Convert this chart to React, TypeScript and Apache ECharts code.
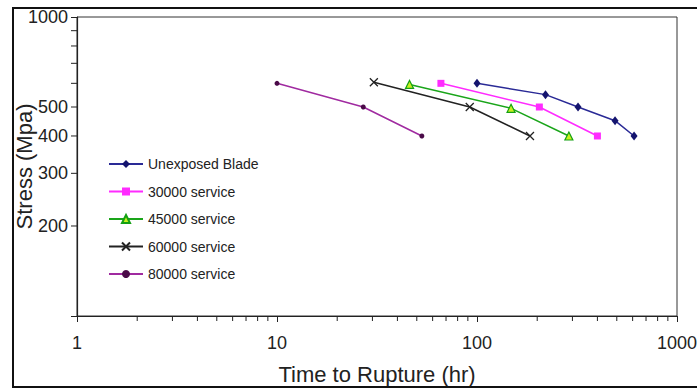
import React, { useEffect, useRef } from "react";
import * as echarts from "echarts";

const seriesNames = ["Unexposed Blade", "30000 service", "45000 service", "60000 service", "80000 service"];

const unexposed: [number, number][] = [[100, 600], [220, 550], [320, 500], [490, 450], [610, 400]];
const s30000: [number, number][] = [[66, 600], [205, 500], [400, 400]];
const s45000: [number, number][] = [[46, 595], [148, 495], [288, 400]];
const s60000: [number, number][] = [[30.5, 605], [92, 500], [184, 400]];
const s80000: [number, number][] = [[10, 600], [27, 500], [53, 400]];

const xMinorTicks = [2, 3, 4, 5, 6, 7, 8, 9, 20, 30, 40, 50, 60, 70, 80, 90, 200, 300, 400, 500, 600, 700, 800, 900];
const yMinorTicks = [200, 300, 400, 500, 600, 700, 800, 900];
const yExtraLabels = [200, 300, 400, 500];

const FONT = "Liberation Sans, Arial, sans-serif";

export default function App() {
  const ref = useRef<HTMLDivElement>(null);
  useEffect(() => {
    if (!ref.current) return;
    const chart = echarts.init(ref.current, null, { renderer: "svg" });
    const lineW = 1.5;
    chart.setOption({
      animation: false,
      backgroundColor: "#fff",
      textStyle: { fontFamily: FONT },
      grid: {
        left: 77,
        right: 20,
        top: 17,
        bottom: 73,
        show: true,
        borderColor: "#333",
        borderWidth: 1,
        containLabel: false,
        outerBoundsMode: "none",
      },
      graphic: [
        {
          type: "rect",
          shape: { x: 13, y: 8, width: 700, height: 379 },
          style: { fill: "none", stroke: "#111", lineWidth: 2 },
          silent: true,
          z: 100,
        },
      ],
      legend: {
        data: seriesNames,
        orient: "vertical",
        left: 108,
        top: 157,
        padding: 0,
        itemWidth: 34,
        itemHeight: 10,
        itemGap: 13.5,
        textStyle: { fontSize: 14, color: "#222", fontFamily: FONT },
      },
      xAxis: {
        type: "log",
        logBase: 10,
        min: 1,
        max: 1000,
        name: "Time to Rupture (hr)",
        nameLocation: "middle",
        nameGap: 47,
        nameMoveOverlap: false,
        nameTextStyle: { fontSize: 22, color: "#222", fontFamily: FONT },
        axisLine: { lineStyle: { color: "#222", width: 1.2 } },
        axisTick: { show: true, inside: false, length: 6, lineStyle: { color: "#222" } },
        axisLabel: { fontSize: 18, color: "#222", margin: 18, formatter: (v: number) => String(Math.round(v)) },
        splitLine: { show: false },
      },
      yAxis: {
        type: "log",
        logBase: 10,
        min: 100,
        max: 1000,
        name: "Stress (Mpa)",
        nameLocation: "middle",
        nameGap: 42,
        nameMoveOverlap: false,
        nameTextStyle: { fontSize: 22, color: "#222", fontFamily: FONT },
        axisLine: { lineStyle: { color: "#222", width: 1.2 } },
        axisTick: { show: true, inside: false, length: 6, lineStyle: { color: "#222" } },
        axisLabel: {
          fontSize: 18,
          color: "#222",
          margin: 9,
          formatter: (v: number) => (Math.round(v) === 1000 ? "1000" : ""),
        },
        splitLine: { show: false },
      },
      series: [
        {
          name: seriesNames[0],
          type: "line",
          data: unexposed,
          symbol: "diamond",
          symbolSize: [7, 9],
          itemStyle: { color: "#14146e" },
          lineStyle: { color: "#2a2a96", width: lineW },
        },
        {
          name: seriesNames[1],
          type: "line",
          data: s30000,
          symbol: "rect",
          symbolSize: 7,
          itemStyle: { color: "#ff2bff" },
          lineStyle: { color: "#ff2bff", width: lineW },
        },
        {
          name: seriesNames[2],
          type: "line",
          data: s45000,
          symbol: "triangle",
          symbolSize: 8,
          itemStyle: { color: "#c8f020", borderColor: "#13a013", borderWidth: 1.2 },
          lineStyle: { color: "#1aa51a", width: lineW },
        },
        {
          name: seriesNames[3],
          type: "line",
          data: s60000,
          symbol: "path://M0,0L10,10M10,0L0,10",
          symbolSize: 8,
          itemStyle: { color: "#222", borderColor: "#222", borderWidth: 1.3 },
          lineStyle: { color: "#222", width: lineW },
        },
        {
          name: seriesNames[4],
          type: "line",
          data: s80000,
          symbol: "circle",
          symbolSize: 5,
          itemStyle: { color: "#4a0a48" },
          lineStyle: { color: "#a02aa0", width: lineW },
        },
        {
          name: "xMinor",
          type: "custom",
          silent: true,
          clip: false,
          data: xMinorTicks.map((v) => [v, 100]),
          renderItem: (params: any, api: any) => {
            const p = api.coord([api.value(0), api.value(1)]);
            return {
              type: "line",
              shape: { x1: p[0], y1: p[1], x2: p[0], y2: p[1] + 5 },
              style: { stroke: "#222", lineWidth: 1 },
            };
          },
        },
        {
          name: "yMinor",
          type: "custom",
          silent: true,
          clip: false,
          data: yMinorTicks.map((v) => [1, v]),
          renderItem: (params: any, api: any) => {
            const v = api.value(1);
            const p = api.coord([api.value(0), v]);
            const children: any[] = [
              {
                type: "line",
                shape: { x1: p[0] - 6, y1: p[1], x2: p[0], y2: p[1] },
                style: { stroke: "#222", lineWidth: 1 },
              },
            ];
            if (yExtraLabels.indexOf(Math.round(v)) >= 0) {
              children.push({
                type: "text",
                x: p[0] - 9,
                y: p[1],
                style: {
                  text: String(Math.round(v)),
                  fill: "#222",
                  fontSize: 18,
                  fontFamily: FONT,
                  align: "right",
                  verticalAlign: "middle",
                },
              });
            }
            return { type: "group", children };
          },
        },
      ],
    });
    return () => chart.dispose();
  }, []);
  return <div ref={ref} style={{ position: "absolute", left: 0, top: 0, width: 697, height: 389 }} />;
}
